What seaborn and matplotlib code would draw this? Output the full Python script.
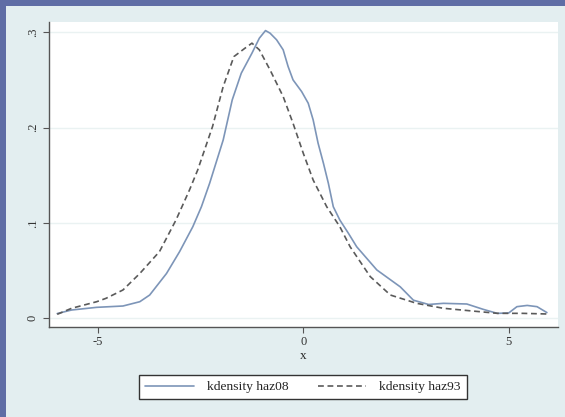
import matplotlib
matplotlib.use("Agg")
import matplotlib.pyplot as plt
from matplotlib.patches import Rectangle
import numpy as np
import pandas as pd
import seaborn as sns

# ---- data ----
x_haz08 = [-5.99, -5.64, -5.03, -4.39, -3.98, -3.74, -3.33, -3.01, -2.69, -2.48,
           -2.28, -1.95, -1.73, -1.51, -1.25, -1.07, -0.92, -0.81, -0.65, -0.49,
           -0.37, -0.25, -0.04, 0.12, 0.24, 0.36, 0.49, 0.61, 0.73, 0.89,
           1.1, 1.3, 1.79, 2.36, 2.68, 3.05, 3.41, 3.98, 4.38, 4.72,
           5.0, 5.2, 5.45, 5.69, 5.93]
y_haz08 = [0.005, 0.0087, 0.0115, 0.0129, 0.0174, 0.0244, 0.047, 0.070, 0.096, 0.117,
           0.1416, 0.187, 0.229, 0.257, 0.278, 0.2937, 0.3017, 0.299, 0.292, 0.2815,
           0.264, 0.250, 0.2377, 0.2255, 0.208, 0.1836, 0.1626, 0.1416, 0.117, 0.103,
           0.089, 0.075, 0.0507, 0.033, 0.019, 0.0145, 0.0157, 0.015, 0.0094, 0.0052,
           0.0056, 0.0122, 0.0135, 0.0122, 0.006]

x_haz93 = [-5.99, -5.64, -5.03, -4.8, -4.39, -3.98, -3.5, -3.1, -2.77, -2.57, -2.21,
           -1.95, -1.69, -1.42, -1.25, -1.07, -0.81, -0.49, -0.25, 0.0, 0.24,
           0.57, 0.89, 1.14, 1.63, 2.12, 2.76, 3.41, 4.03, 4.73,
           5.34, 5.96]
y_haz93 = [0.0042, 0.0105, 0.0174, 0.021, 0.0297, 0.047, 0.070, 0.103, 0.1346, 0.1556, 0.201,
           0.243, 0.2744, 0.2832, 0.2885, 0.2815, 0.2605, 0.2325, 0.2045, 0.173, 0.145,
           0.117, 0.096, 0.075, 0.0437, 0.0244, 0.0157, 0.0105, 0.008, 0.0052,
           0.0052, 0.0045]

series_names = ["kdensity haz08", "kdensity haz93"]
x_ticks = [-5, 0, 5]
x_tick_labels = ["-5", "0", "5"]
y_ticks = [0, 0.1, 0.2, 0.3]
y_tick_labels = ["0", ".1", ".2", ".3"]
x_label = "x"

df = pd.concat([
    pd.DataFrame({"x": x_haz08, "density": y_haz08, "series": series_names[0]}),
    pd.DataFrame({"x": x_haz93, "density": y_haz93, "series": series_names[1]}),
], ignore_index=True)

# ---- styling ----
sns.set_theme(style="white")
plt.rcParams["font.family"] = ["Liberation Serif", "DejaVu Serif"]

PANEL = "#e3eef0"
STRIP = "#5f6da5"
COL08 = "#7d95b8"
COL93 = "#5a5a5a"

fig = plt.figure(figsize=(5.65, 4.17), dpi=100, facecolor=PANEL)
W, H = 565, 417
fig.patches.append(Rectangle((0, 0), 6 / W, 1, transform=fig.transFigure,
                             facecolor=STRIP, edgecolor="none", zorder=0))
fig.patches.append(Rectangle((0, 1 - 6 / H), 1, 6 / H, transform=fig.transFigure,
                             facecolor=STRIP, edgecolor="none", zorder=0))

left, right, top, bottom = 48.6, 558, 21.7, 326.7
ax = fig.add_axes([left / W, 1 - bottom / H, (right - left) / W, (bottom - top) / H])
ax.set_facecolor("white")

sns.lineplot(data=df, x="x", y="density", hue="series", style="series",
             palette={series_names[0]: COL08, series_names[1]: COL93},
             dashes={series_names[0]: "", series_names[1]: (3.5, 2.2)},
             linewidth=1.2, sort=False, legend=False, ax=ax, zorder=3)
for ln in ax.get_lines():
    ln.set_solid_joinstyle("round")
    ln.set_dash_joinstyle("round")

ax.set_xlim(-6.2, 6.2)
ax.set_ylim(-0.0088, 0.311)
ax.set_xticks(x_ticks)
ax.set_xticklabels(x_tick_labels)
ax.set_yticks(y_ticks)
ax.set_yticklabels(y_tick_labels, rotation=90, va="center")
ax.set_xlabel(x_label, fontsize=9.5, labelpad=1)
ax.set_ylabel("")

for yv in y_ticks:
    ax.axhline(yv, color="#eaf2f2", linewidth=1.0, zorder=1)

for s in ["top", "right"]:
    ax.spines[s].set_visible(False)
for s in ["left", "bottom"]:
    ax.spines[s].set_color("#555555")
    ax.spines[s].set_linewidth(1.0)

ax.tick_params(axis="both", which="major", direction="out", length=4, width=0.8,
               color="#555555", labelsize=9, labelcolor="#333333", pad=3,
               left=True, bottom=True)

handles = ax.get_lines()[:2]
leg = fig.legend(handles, series_names, loc="center", ncol=2,
                 bbox_to_anchor=(303 / W, 1 - 387 / H), frameon=True,
                 fancybox=False, shadow=False, fontsize=9.7,
                 handlelength=3.6, handletextpad=0.95, columnspacing=2.2,
                 borderpad=0.45, borderaxespad=0)
leg.get_frame().set_edgecolor("#333333")
leg.get_frame().set_linewidth(1.0)
leg.get_frame().set_facecolor("white")
leg.get_frame().set_alpha(1)
for t in leg.get_texts():
    t.set_color("#222222")

fig.savefig("out.png", dpi=100, facecolor=PANEL)
